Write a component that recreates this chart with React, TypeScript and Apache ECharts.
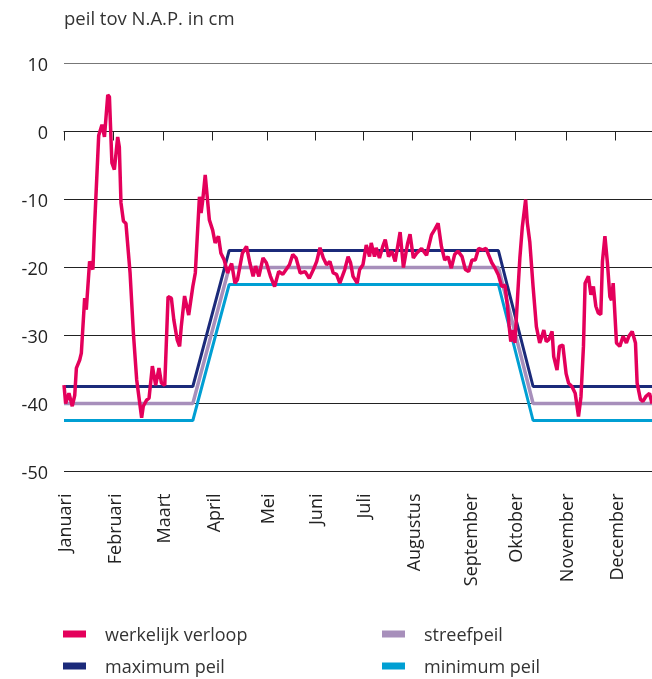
import React, { useEffect, useRef } from "react";
import * as echarts from "echarts";

const monthNames = ["Januari", "Februari", "Maart", "April", "Mei", "Juni", "Juli", "Augustus", "September", "Oktober", "November", "December"];
const monthTicks = [0, 30, 60, 90, 123, 152, 181, 211, 246, 273, 304, 334];

const werkelijk: [number, number][] = [
  [0, -37.3], [1, -40], [3, -38.5], [5, -40.4], [6.5, -38.8], [7.5, -34.8], [9.5, -33.6], [10.5, -32.6], [12.5, -24.5], [13.5, -26.2],
  [15.5, -19.1], [17.5, -20.3], [18.5, -14], [21, -0.6], [23, 1], [24.5, -0.8], [26.5, 5.4], [27.5, 5.1], [29, -4.6], [30.5, -5.6],
  [32.5, -0.8], [33.5, -2.3], [34.5, -10.5], [36, -13.2], [37.5, -13.5], [40, -20.8], [42, -29.6], [44, -36.5], [47, -42.1], [48, -40.4],
  [50, -39.5], [51.5, -39.2], [53.5, -34.5], [55.5, -37.3], [57.5, -34.8], [59, -37], [61, -37.3], [63, -24.3], [65, -24.5], [66.5, -27.7],
  [68.5, -30.6], [70, -31.6], [71, -28.7], [73, -24.2], [75.5, -27], [78, -22.8], [79.5, -20.8], [82, -9.6], [83, -12], [84, -10.1],
  [85.5, -6.4], [88, -13], [90, -14.5], [91.5, -16.4], [93.5, -15.4], [95, -17.9], [97, -18.9], [99, -20.8], [101.5, -19.4], [103.5, -22.3],
  [105, -21.8], [108, -17.9], [110.5, -16.9], [112.5, -19.3], [114.5, -21.3], [116, -19.8], [118, -21.3], [120.5, -18.6], [122.5, -19.3], [125, -21.3],
  [127.5, -22.8], [130, -20.6], [132.5, -21], [134.5, -20.3], [136.5, -19.6], [138.5, -18.1], [140.5, -18.6], [143, -20.8], [146, -20.6], [148.5, -21.6],
  [151, -20.3], [153, -19.1], [155, -17.1], [157, -18.6], [159, -19.6], [161, -19.1], [163, -20.8], [165, -21], [167, -22.3], [170, -20.3],
  [172, -18.4], [173.5, -19.3], [175, -21.3], [177.5, -22.3], [179, -20.3], [181, -19.6], [183, -16.7], [185, -18.4], [186, -16.4], [188, -18.4],
  [189, -17.1], [191, -18.6], [193, -16.9], [194.5, -15.9], [196.5, -18.4], [198.5, -17.6], [200.5, -19.1], [203.5, -14.8], [205.5, -20], [208, -16.5],
  [209.5, -15.1], [211.5, -18.6], [213.5, -17.9], [216.5, -17.2], [219.5, -18.2], [222.5, -15.2], [224.5, -14.4], [226.5, -13.5], [228.5, -16.9], [230.5, -18.9],
  [232.5, -18.4], [234.5, -20.1], [236.5, -18.1], [238.5, -17.6], [241, -18.4], [243, -20.3], [245, -20.6], [247, -18.9], [249, -18.9], [251, -17.2],
  [253.5, -17.4], [255.5, -17.2], [257, -18.1], [259, -19.3], [261, -20.1], [263, -21.1], [265, -22.8], [267, -22.6], [268.5, -25.7], [269.5, -28.6],
  [270.5, -30.9], [272, -29.2], [273, -31.1], [274.5, -24.8], [276, -18.6], [277.5, -14], [279.5, -10], [280.5, -13.4], [282, -16.2], [284, -22.8],
  [286, -28.7], [288, -31.1], [289, -30.4], [290.5, -29.2], [292, -30.9], [293.5, -30.6], [295.5, -29.4], [296.5, -33.1], [298.5, -35.1], [300, -31.6],
  [302, -31.4], [304, -35.6], [305.5, -37], [307.5, -37.5], [309.5, -38.5], [311.5, -41.9], [313, -39], [314.5, -31.6], [315.5, -22.3], [317.5, -21.3],
  [319, -24], [320.5, -22.8], [322, -25.7], [323.5, -26.7], [325, -26.9], [326, -19.1], [327.5, -15.4], [329, -19.3], [330.5, -24.3], [331.5, -24.8],
  [332.5, -22.3], [334.5, -31.1], [336.5, -31.6], [338.5, -30.1], [340.5, -31.1], [342, -30.1], [344, -29.4], [346, -31.1], [347, -37], [349, -39.4],
  [350.5, -39.7], [352.5, -38.9], [354.5, -38.5], [356, -40],
];

const peilDays = [0, 78, 100, 263, 284, 356];
const maximumPeil = [-37.5, -37.5, -17.5, -17.5, -37.5, -37.5];
const streefPeil = [-40, -40, -20, -20, -40, -40];
const minimumPeil = [-42.5, -42.5, -22.5, -22.5, -42.5, -42.5];

const FONT = "'Open Sans', 'Noto Sans', sans-serif";
const PINK = "#e4005b";
const NAVY = "#1b2a7a";
const PURPLE = "#a78fbb";
const CYAN = "#009fd3";

export default function App() {
  const ref = useRef<HTMLDivElement>(null);
  useEffect(() => {
    if (!ref.current) return;
    const chart = echarts.init(ref.current, null, { renderer: "svg" });
    const pair = (vals: number[]) => peilDays.map((d, i) => [d, vals[i]]);
    const leg = (name: string, left: number, top: number) => ({
      left,
      top,
      padding: 0,
      itemWidth: 23,
      itemHeight: 7,
      icon: "rect",
      data: [name],
      textStyle: { fontSize: 18, color: "#333", fontFamily: FONT, padding: [0, 0, 0, 14] },
    });
    chart.setOption({
      animation: false,
      textStyle: { fontFamily: FONT },
      title: {
        text: "peil tov N.A.P. in cm",
        left: 60,
        top: 8,
        padding: [0, 4, 0, 4],
        textStyle: { fontSize: 18.5, fontWeight: "normal", color: "#333", fontFamily: FONT },
      },
      grid: { left: 64, right: 0, top: 63.5, bottom: 207.5, containLabel: false },
      xAxis: {
        type: "value",
        min: 0,
        max: 356,
        splitLine: { show: false },
        axisLine: { show: true, lineStyle: { color: "#222", width: 1 } },
        axisTick: { show: true, length: 9, lineStyle: { color: "#222" }, customValues: monthTicks },
        axisLabel: {
          customValues: monthTicks,
          rotate: 90,
          margin: 22,
          fontSize: 18,
          color: "#222",
          fontFamily: FONT,
          formatter: (v: number) => {
            const i = monthTicks.indexOf(Math.round(v));
            return i >= 0 ? monthNames[i] : "";
          },
        },
      },
      yAxis: {
        type: "value",
        min: -50,
        max: 10,
        interval: 10,
        axisLine: { show: false },
        axisTick: { show: false },
        axisLabel: { fontSize: 18, color: "#222", margin: 16, fontFamily: FONT },
        splitLine: {
          show: true,
          lineStyle: { color: ["#222", "#222", "#222", "#222", "#222", "#222", "#777"], width: 1 },
        },
      },
      legend: [
        leg("werkelijk verloop", 63, 625),
        leg("maximum peil", 63, 657),
        leg("streefpeil", 382, 625),
        leg("minimum peil", 382, 657),
      ],
      series: [
        {
          name: "minimum peil",
          type: "line",
          data: pair(minimumPeil),
          showSymbol: false,
          lineStyle: { color: CYAN, width: 3 },
          itemStyle: { color: CYAN },
        },
        {
          name: "streefpeil",
          type: "line",
          data: pair(streefPeil),
          showSymbol: false,
          lineStyle: { color: PURPLE, width: 3.5 },
          itemStyle: { color: PURPLE },
        },
        {
          name: "maximum peil",
          type: "line",
          data: pair(maximumPeil),
          showSymbol: false,
          lineStyle: { color: NAVY, width: 3 },
          itemStyle: { color: NAVY },
        },
        {
          name: "werkelijk verloop",
          type: "line",
          data: werkelijk,
          showSymbol: false,
          lineStyle: { color: PINK, width: 3.5 },
          itemStyle: { color: PINK },
        },
      ],
    });
    return () => chart.dispose();
  }, []);
  return <div ref={ref} style={{ position: "fixed", left: 0, top: 0, width: 652, height: 679 }} />;
}
